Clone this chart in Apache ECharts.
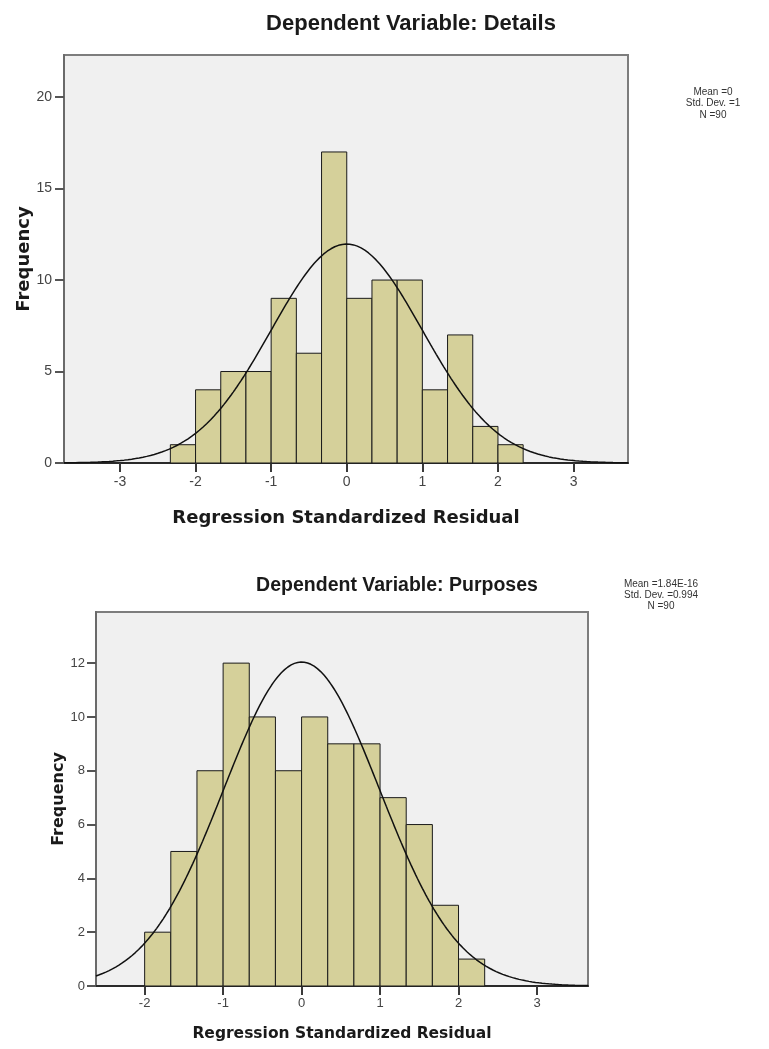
<!DOCTYPE html>
<html>
<head>
<meta charset="utf-8">
<script src="https://cdn.jsdelivr.net/npm/echarts@6/dist/echarts.min.js"></script>
<style>
html,body{margin:0;padding:0;background:#fff;}
#c{width:769px;height:1049px;}
</style>
</head>
<body>
<div id="c"></div>
<script>
// ---------- data ----------
const binWidth = 1 / 3;

const topTitle = 'Dependent Variable: Details';
const topBinStart = -7 / 3;
const topCounts = [1, 4, 5, 5, 9, 6, 17, 9, 10, 10, 4, 7, 2, 1];
const topStats = { mean: 0, sd: 1, n: 90 };
const topStatLines = ['Mean =0', 'Std. Dev. =1', 'N =90'];
const topXTicks = [-3, -2, -1, 0, 1, 2, 3];
const topYTicks = [0, 5, 10, 15, 20];

const botTitle = 'Dependent Variable: Purposes';
const botBinStart = -2;
const botCounts = [2, 5, 8, 12, 10, 8, 10, 9, 9, 7, 6, 3, 1];
const botStats = { mean: 1.84e-16, sd: 0.994, n: 90 };
const botStatLines = ['Mean =1.84E-16', 'Std. Dev. =0.994', 'N =90'];
const botXTicks = [-2, -1, 0, 1, 2, 3];
const botYTicks = [0, 2, 4, 6, 8, 10, 12];

const xName = 'Regression Standardized Residual';
const yName = 'Frequency';

// ---------- helpers ----------
function bins(start, counts) {
  return counts.map((c, i) => [start + i * binWidth, start + (i + 1) * binWidth, c]);
}
function normalCurve(stats, xmin, xmax) {
  const pts = [];
  const steps = 300;
  for (let i = 0; i <= steps; i++) {
    const x = xmin + (xmax - xmin) * i / steps;
    const z = (x - stats.mean) / stats.sd;
    const y = stats.n * binWidth * Math.exp(-0.5 * z * z) / (stats.sd * Math.sqrt(2 * Math.PI));
    pts.push([x, y]);
  }
  return pts;
}
function renderBar(params, api) {
  const p0 = api.coord([api.value(0), 0]);
  const p1 = api.coord([api.value(1), api.value(2)]);
  return {
    type: 'rect',
    shape: { x: p0[0], y: p1[1], width: p1[0] - p0[0], height: p0[1] - p1[1] },
    style: { fill: '#d5d09a', stroke: '#1a1a1a', lineWidth: 1 }
  };
}

const FONT = 'Liberation Sans, Arial, sans-serif';
const AXFONT = 'DejaVu Sans, Verdana, sans-serif';

const grids = [
  { left: 64, top: 55, width: 564, height: 408 },
  { left: 96, top: 612, width: 492, height: 374 }
];
const ranges = [
  { xmin: -3.74, xmax: 3.72, ymax: 22.3 },
  { xmin: -2.62, xmax: 3.65, ymax: 13.9 }
];

function xAxis(gi, ticks, fs, nameFs, nameGap, margin) {
  return {
    type: 'value', gridIndex: gi, min: ranges[gi].xmin, max: ranges[gi].xmax,
    name: xName, nameLocation: 'middle', nameGap: nameGap,
    nameTextStyle: { fontFamily: AXFONT, fontWeight: 'bold', fontSize: nameFs, color: '#1a1a1a' },
    axisLine: { show: true, onZero: false, lineStyle: { color: '#2a2a2a', width: 2 } },
    axisTick: { show: true, customValues: ticks, length: 9, lineStyle: { color: '#3a3a3a', width: 2 } },
    axisLabel: { customValues: ticks, fontFamily: FONT, fontSize: fs, color: '#444', margin: margin },
    splitLine: { show: false }
  };
}
function yAxis(gi, ticks, fs, nameFs, nameGap, margin) {
  return {
    type: 'value', gridIndex: gi, min: 0, max: ranges[gi].ymax,
    name: yName, nameLocation: 'middle', nameGap: nameGap, nameRotate: 90,
    nameMoveOverlap: false,
    nameTextStyle: { fontFamily: AXFONT, fontWeight: 'bold', fontSize: nameFs, color: '#1a1a1a' },
    axisLine: { show: true, onZero: false, lineStyle: { color: '#6a6a6a', width: 2 } },
    axisTick: { show: true, customValues: ticks, length: 9, lineStyle: { color: '#555', width: 2 } },
    axisLabel: { customValues: ticks, fontFamily: FONT, fontSize: fs, color: '#444', margin: margin },
    splitLine: { show: false }
  };
}

const chart = echarts.init(document.getElementById('c'), null, { renderer: 'canvas' });
chart.setOption({
  animation: false,
  backgroundColor: '#ffffff',
  title: [
    { text: topTitle, left: 406, top: 8, textAlign: 'center',
      textStyle: { fontFamily: FONT, fontWeight: 'bold', fontSize: 22, color: '#1a1a1a' } },
    { text: botTitle, left: 392, top: 571, textAlign: 'center',
      textStyle: { fontFamily: FONT, fontWeight: 'bold', fontSize: 19.5, color: '#1a1a1a' } }
  ],
  grid: grids.map(g => Object.assign({
    show: true, backgroundColor: '#f0f0f0', borderColor: '#7d7d7d', borderWidth: 2
  }, g)),
  xAxis: [xAxis(0, topXTicks, 14, 18, 46, 12), xAxis(1, botXTicks, 13, 15.5, 40, 11)],
  yAxis: [yAxis(0, topYTicks, 14, 18, 31, 12), yAxis(1, botYTicks, 13, 16, 29, 11)],
  series: [
    { type: 'custom', xAxisIndex: 0, yAxisIndex: 0, renderItem: renderBar,
      encode: { x: [0, 1], y: 2 }, data: bins(topBinStart, topCounts), z: 2 },
    { type: 'line', xAxisIndex: 0, yAxisIndex: 0, showSymbol: false, symbol: 'none',
      lineStyle: { color: '#111', width: 1.5 }, data: normalCurve(topStats, ranges[0].xmin, ranges[0].xmax), z: 3 },
    { type: 'custom', xAxisIndex: 1, yAxisIndex: 1, renderItem: renderBar,
      encode: { x: [0, 1], y: 2 }, data: bins(botBinStart, botCounts), z: 2 },
    { type: 'line', xAxisIndex: 1, yAxisIndex: 1, showSymbol: false, symbol: 'none',
      lineStyle: { color: '#111', width: 1.5 }, data: normalCurve(botStats, ranges[1].xmin, ranges[1].xmax), z: 3 }
  ],
  graphic: [
    { type: 'text', x: 713, y: 86,
      style: { text: topStatLines.join('\n'), textAlign: 'center', fill: '#333',
        font: '10px Liberation Sans, Arial, sans-serif', lineHeight: 11.5 } },
    { type: 'text', x: 661, y: 579,
      style: { text: botStatLines.join('\n'), textAlign: 'center', fill: '#333',
        font: '10px Liberation Sans, Arial, sans-serif', lineHeight: 11 } }
  ]
});
</script>
</body>
</html>
